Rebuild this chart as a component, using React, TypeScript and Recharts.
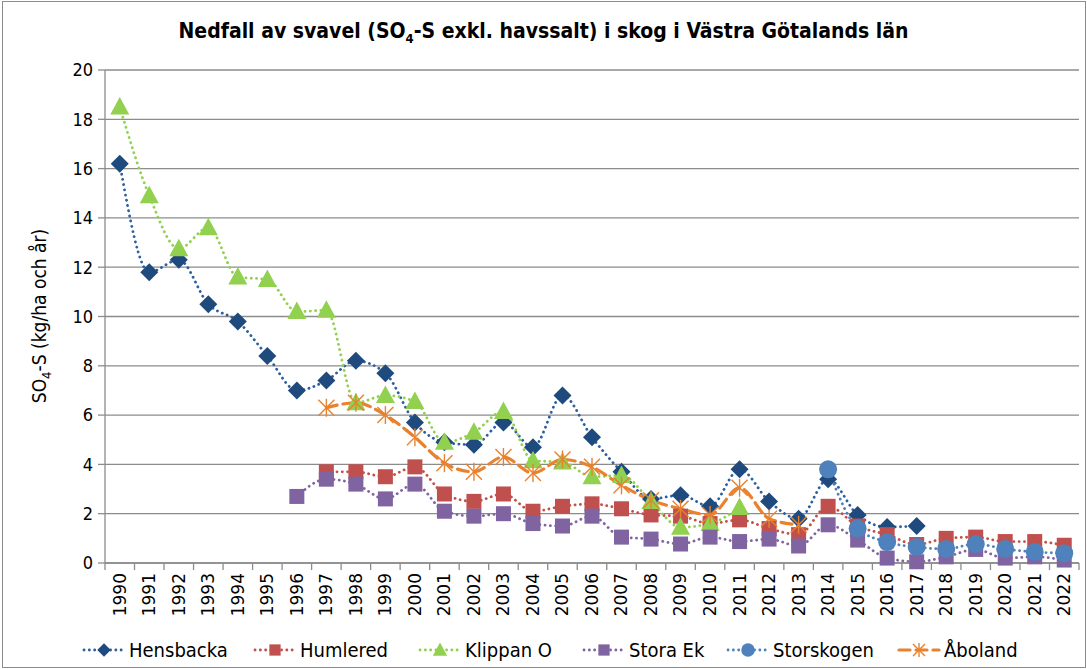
import React from 'react';
import { CartesianGrid, Line, LineChart, XAxis, YAxis } from 'recharts';

const years = [
  '1990', '1991', '1992', '1993', '1994', '1995', '1996', '1997', '1998', '1999', '2000',
  '2001', '2002', '2003', '2004', '2005', '2006', '2007', '2008', '2009', '2010', '2011',
  '2012', '2013', '2014', '2015', '2016', '2017', '2018', '2019', '2020', '2021', '2022',
];

const hensbacka = [
  16.2, 11.8, 12.3, 10.5, 9.8, 8.4, 7.0, 7.4, 8.2, 7.7, 5.7, 4.9, 4.8, 5.7, 4.7, 6.8, 5.1,
  3.7, 2.6, 2.75, 2.3, 3.8, 2.5, 1.8, 3.4, 1.95, 1.46, 1.5, null, null, null, null, null,
];
const humlered = [
  null, null, null, null, null, null, null, 3.7, 3.7, 3.5, 3.9, 2.8, 2.5, 2.8, 2.1, 2.3, 2.4,
  2.2, 1.95, 1.9, 1.6, 1.75, 1.4, 1.15, 2.3, 1.5, 1.15, 0.75, 1.0, 1.05, 0.87, 0.87, 0.72,
];
const klippanO = [
  18.5, 14.9, 12.75, 13.6, 11.6, 11.5, 10.2, 10.25, 6.5, 6.8, 6.55, 4.9, 5.3, 6.15, 4.15, 4.1,
  3.5, 3.55, 2.5, 1.45, 1.6, 2.25, null, null, null, null, null, null, null, null, null, null, null,
];
const storaEk = [
  null, null, null, null, null, null, 2.7, 3.4, 3.2, 2.6, 3.2, 2.1, 1.9, 2.0, 1.6, 1.5, 1.9,
  1.05, 0.97, 0.77, 1.05, 0.87, 0.97, 0.69, 1.55, 0.93, 0.2, 0.05, 0.25, 0.55, 0.2, 0.25, 0.12,
];
const storskogen = [
  null, null, null, null, null, null, null, null, null, null, null, null, null, null, null, null, null,
  null, null, null, null, null, null, null, 3.8, 1.4, 0.85, 0.65, 0.57, 0.77, 0.57, 0.45, 0.4,
];
const aboland = [
  null, null, null, null, null, null, null, 6.3, 6.5, 6.0, 5.1, 4.05, 3.7, 4.3, 3.65, 4.2, 3.9,
  3.15, 2.55, 2.2, 1.95, 3.05, 1.8, 1.55, null, null, null, null, null, null, null, null, null,
];

const yTicks = [0, 2, 4, 6, 8, 10, 12, 14, 16, 18, 20];

const data = years.map((year, i) => ({
  year,
  hensbacka: hensbacka[i],
  humlered: humlered[i],
  klippanO: klippanO[i],
  storaEk: storaEk[i],
  storskogen: storskogen[i],
  aboland: aboland[i],
}));

const W = 1087;
const H = 669;
const PLOT_LEFT = 105;
const PLOT_RIGHT = 1079;
const PLOT_BOTTOM = 563;
const HALF_BAND = (PLOT_RIGHT - PLOT_LEFT) / years.length / 2;
const FONT = '"Liberation Sans Narrow", "DejaVu Sans Condensed", "Liberation Sans", sans-serif';
const GRID = '#8c8c8c';

type Marker = 'diamond' | 'square' | 'triangle' | 'circle' | 'star';

// k scales the marker (legend icons are drawn a bit smaller)
const drawMarker = (kind: Marker, cx: number, cy: number, color: string, key?: any, k = 1) => {
  if (kind === 'diamond') {
    const s = 9 * k;
    return <path key={key} d={`M${cx},${cy - s}L${cx + s},${cy}L${cx},${cy + s}L${cx - s},${cy}Z`} fill={color} />;
  }
  if (kind === 'square') {
    const s = 7.5 * k;
    return <rect key={key} x={cx - s} y={cy - s} width={2 * s} height={2 * s} fill={color} />;
  }
  if (kind === 'triangle') {
    return <path key={key} d={`M${cx},${cy - 10 * k}L${cx + 9.5 * k},${cy + 7.5 * k}L${cx - 9.5 * k},${cy + 7.5 * k}Z`} fill={color} />;
  }
  if (kind === 'circle') {
    return <circle key={key} cx={cx} cy={cy} r={9 * k} fill={color} />;
  }
  const s = 8 * k;
  return (
    <g key={key} stroke={color} strokeWidth={1.4}>
      <line x1={cx - s} y1={cy - s} x2={cx + s} y2={cy + s} />
      <line x1={cx - s} y1={cy + s} x2={cx + s} y2={cy - s} />
      <line x1={cx} y1={cy - s - 1} x2={cx} y2={cy + s + 1} />
    </g>
  );
};

const dotFor = (kind: Marker, color: string) => (props: any) => {
  const { cx, cy, value, index } = props;
  if (value == null || cx == null || cy == null) return <g key={`e-${index}`} />;
  return drawMarker(kind, cx, cy, color, `m-${index}`);
};

const series = [
  { key: 'hensbacka', name: 'Hensbacka', marker: 'diamond' as Marker, fill: '#1F4A7E', line: '#2D5E9E', dash: '0.1 5.2', width: 2.8 },
  { key: 'humlered', name: 'Humlered', marker: 'square' as Marker, fill: '#C0504D', line: '#C0504D', dash: '0.1 5.2', width: 2.8 },
  { key: 'klippanO', name: 'Klippan O', marker: 'triangle' as Marker, fill: '#92D050', line: '#92D050', dash: '0.1 5.2', width: 2.8 },
  { key: 'storaEk', name: 'Stora Ek', marker: 'square' as Marker, fill: '#8064A2', line: '#8064A2', dash: '0.1 5.2', width: 2.8 },
  { key: 'storskogen', name: 'Storskogen', marker: 'circle' as Marker, fill: '#4F81BD', line: '#4F81BD', dash: '0.1 5.2', width: 2.8 },
  { key: 'aboland', name: 'Åboland', marker: 'star' as Marker, fill: '#E8822E', line: '#E8822E', dash: '11 6', width: 3.2 },
];

const legendX = [104, 275, 440, 604, 748, 919];

const YearTick = (props: any) => {
  const { x, payload, index } = props;
  return (
    <g>
      <line x1={x - HALF_BAND} y1={PLOT_BOTTOM} x2={x - HALF_BAND} y2={PLOT_BOTTOM + 7} stroke={GRID} strokeWidth={1.3} />
      {index === years.length - 1 && (
        <line x1={x + HALF_BAND} y1={PLOT_BOTTOM} x2={x + HALF_BAND} y2={PLOT_BOTTOM + 7} stroke={GRID} strokeWidth={1.3} />
      )}
      <text
        transform={`translate(${x},${PLOT_BOTTOM + 10}) rotate(-90)`}
        textAnchor="end"
        dy="0.35em"
        fontSize={17}
        fontFamily="DejaVu Sans"
        fill="#000"
      >
        {payload.value}
      </text>
    </g>
  );
};

export default function App() {
  return (
    <div style={{ position: 'absolute', left: 0, top: 0, width: W, height: H, background: '#fff', fontFamily: FONT }}>
      <div style={{ position: 'absolute', left: 2, top: 1, width: W - 5, height: H - 4, border: '1px solid #8c8c8c' }} />
      <LineChart width={W} height={H} data={data} margin={{ top: 70, right: W - PLOT_RIGHT, bottom: 46, left: 0 }}>
        <CartesianGrid vertical={false} stroke={GRID} strokeWidth={1.3} />
        <XAxis
          dataKey="year"
          height={60}
          interval={0}
          padding={{ left: HALF_BAND, right: HALF_BAND }}
          tickLine={false}
          axisLine={{ stroke: GRID, strokeWidth: 1.3 }}
          tick={<YearTick />}
        />
        <YAxis
          width={PLOT_LEFT}
          domain={[0, 20]}
          ticks={yTicks}
          interval={0}
          tickSize={7}
          tickMargin={5}
          axisLine={{ stroke: GRID, strokeWidth: 1.3 }}
          tickLine={{ stroke: GRID, strokeWidth: 1.3 }}
          tick={{ fill: '#000', fontSize: 18, fontFamily: FONT }}
        />
        {series.map((s) => (
          <Line
            key={s.key}
            dataKey={s.key}
            name={s.name}
            type="monotone"
            stroke={s.line}
            strokeWidth={s.width}
            strokeDasharray={s.dash}
            strokeLinecap="round"
            dot={dotFor(s.marker, s.fill)}
            activeDot={false}
            isAnimationActive={false}
          />
        ))}
      </LineChart>
      <div style={{ position: 'absolute', left: 0, top: 19, width: W, textAlign: 'center', fontWeight: 'bold', fontSize: 21, color: '#000' }}>
        Nedfall av svavel (SO<sub style={{ fontSize: 13 }}>4</sub>-S exkl. havssalt) i skog i Västra Götalands län
      </div>
      <svg style={{ position: 'absolute', left: 0, top: 0 }} width={W} height={H}>
        <text transform={`translate(46,316) rotate(-90)`} textAnchor="middle" fontSize={19} fontFamily={FONT} fill="#000">
          SO<tspan fontSize={13} dy={5}>4</tspan>
          <tspan dy={-5}>-S (kg/ha och år)</tspan>
        </text>
        {series.map((s, i) => {
          const cx = legendX[i];
          const cy = 650;
          return (
            <g key={s.key}>
              <line x1={cx - 20} y1={cy} x2={cx + 20} y2={cy} stroke={s.line} strokeWidth={s.width} strokeDasharray={s.dash} strokeLinecap="round" />
              {drawMarker(s.marker, cx, cy, s.fill, undefined, 0.75)}
              <text x={cx + 25} y={cy} dy="0.35em" fontSize={20} fontFamily={FONT} fill="#000">
                {s.name}
              </text>
            </g>
          );
        })}
      </svg>
    </div>
  );
}
